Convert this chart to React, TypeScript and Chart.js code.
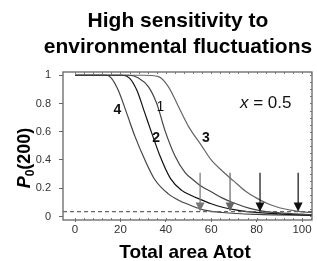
import { useEffect, useRef } from "react";
import { Chart, registerables } from "chart.js";

Chart.register(...registerables);

// ---- data ----
const curve1X = [0, 24, 28, 32.3, 36, 39.6, 44, 48.5, 52, 56, 60, 65, 70, 77, 82, 90, 100, 104.4];
const curve1Y = [1, 1, 0.98, 0.92, 0.8, 0.61, 0.43, 0.31, 0.26, 0.21, 0.175, 0.13, 0.095, 0.057, 0.04, 0.026, 0.016, 0.013];
const curve2X = [0, 21, 24, 27.2, 30.8, 33.8, 37.4, 42, 47, 51, 55, 60, 65, 70, 77, 90, 104.4];
const curve2Y = [1, 1, 0.98, 0.895, 0.73, 0.59, 0.43, 0.27, 0.185, 0.15, 0.122, 0.09, 0.065, 0.048, 0.033, 0.018, 0.01];
const curve3X = [0, 30, 36.7, 41.1, 45.5, 49.9, 55.8, 60, 65, 70, 75, 80, 85, 90, 95, 100, 104.4];
const curve3Y = [1, 1, 0.99, 0.92, 0.78, 0.64, 0.5, 0.4, 0.32, 0.25, 0.18, 0.13, 0.09, 0.062, 0.045, 0.033, 0.028];
const curve4X = [0, 14, 16, 19, 22.8, 26.4, 30.8, 35.2, 41.1, 46.3, 50, 53.6, 57, 65, 80, 104.4];
const curve4Y = [1, 1, 0.98, 0.895, 0.73, 0.567, 0.4, 0.26, 0.16, 0.11, 0.085, 0.062, 0.045, 0.028, 0.015, 0.008];
const curveNames = ["1", "2", "3", "4"];
const curveColors = ["#444444", "#111111", "#666666", "#444444"];
const labelX = [37.6, 35.7, 57.7, 18.7];
const labelY = [0.774, 0.555, 0.555, 0.753];
const labelBold = [false, true, true, true];

const thresholdY = 0.035;
const arrowX = [55.1, 68.3, 81.5, 98.3];
const arrowTop = [0.31, 0.31, 0.31, 0.31];
const arrowTip = [0.035, 0.035, 0.035, 0.035];
const arrowColors = ["#777777", "#666666", "#111111", "#111111"];

const xTicks = [0, 20, 40, 60, 80, 100];
const yTicks = [0, 0.2, 0.4, 0.6, 0.8, 1];
const xMin = -5.3;
const xMax = 104.4;
const yMin = -0.025;
const yMax = 1.023;

const titleLines = ["High sensitivity to", "environmental fluctuations"];
const xTitle = "Total area Atot";
const paramText = ["x", " = 0.5"];

const FONT = "'Liberation Sans', Arial, Helvetica, sans-serif";

const toPts = (xs: number[], ys: number[]) => xs.map((x, i) => ({ x, y: ys[i] }));

export default function App() {
  const ref = useRef<HTMLCanvasElement | null>(null);

  useEffect(() => {
    const canvas = ref.current;
    if (!canvas) return;

    const overlay = {
      id: "overlay",
      afterDraw(chart: any) {
        const ctx = chart.ctx as CanvasRenderingContext2D;
        const xs = chart.scales.x;
        const ys = chart.scales.y;
        const a = chart.chartArea;
        ctx.save();

        // frame
        ctx.strokeStyle = "#666";
        ctx.lineWidth = 1.3;
        ctx.strokeRect(a.left, a.top, a.right - a.left, a.bottom - a.top);

        // inward minor ticks
        ctx.lineWidth = 1;
        ctx.strokeStyle = "#777";
        ctx.beginPath();
        for (let v = 0; v <= 104; v += 4) {
          const px = Math.round(xs.getPixelForValue(v)) + 0.5;
          ctx.moveTo(px, a.top);
          ctx.lineTo(px, a.top + 2);
          ctx.moveTo(px, a.bottom);
          ctx.lineTo(px, a.bottom - 2);
        }
        for (let v = 0; v <= 1.0001; v += 0.05) {
          const py = Math.round(ys.getPixelForValue(v)) + 0.5;
          ctx.moveTo(a.right, py);
          ctx.lineTo(a.right - 2, py);
        }
        ctx.stroke();

        // arrows
        for (let i = 0; i < arrowX.length; i++) {
          const px = xs.getPixelForValue(arrowX[i]);
          const pTop = ys.getPixelForValue(arrowTop[i]);
          const pTip = ys.getPixelForValue(arrowTip[i]);
          ctx.strokeStyle = arrowColors[i];
          ctx.fillStyle = arrowColors[i];
          ctx.lineWidth = 1.2;
          ctx.beginPath();
          ctx.moveTo(px, pTop);
          ctx.lineTo(px, pTip - 6);
          ctx.stroke();
          ctx.beginPath();
          ctx.moveTo(px - 4.5, pTip - 9);
          ctx.lineTo(px + 4.5, pTip - 9);
          ctx.lineTo(px, pTip);
          ctx.closePath();
          ctx.fill();
        }

        // curve labels
        ctx.fillStyle = "#111";
        ctx.textAlign = "center";
        ctx.textBaseline = "middle";
        for (let i = 0; i < curveNames.length; i++) {
          ctx.font = `${labelBold[i] ? "bold " : ""}14px ${FONT}`;
          ctx.fillText(curveNames[i], xs.getPixelForValue(labelX[i]), ys.getPixelForValue(labelY[i]));
        }

        // parameter text
        ctx.textAlign = "left";
        ctx.textBaseline = "alphabetic";
        ctx.font = `italic 17px ${FONT}`;
        ctx.fillText(paramText[0], 240, 107.5);
        const w0 = ctx.measureText(paramText[0]).width;
        ctx.font = `17px ${FONT}`;
        ctx.fillText(paramText[1], 240 + w0, 107.5);

        // title
        ctx.fillStyle = "#000";
        ctx.textAlign = "center";
        ctx.font = `bold 21px ${FONT}`;
        ctx.fillText(titleLines[0], 178, 27);
        ctx.fillText(titleLines[1], 178, 53);

        // x title
        ctx.font = `bold 19px ${FONT}`;
        ctx.fillText(xTitle, 185, 258);

        // y title: P0(200)
        ctx.translate(30, 158);
        ctx.rotate(-Math.PI / 2);
        ctx.textAlign = "left";
        ctx.font = `italic bold 18px ${FONT}`;
        const wP = ctx.measureText("P").width;
        ctx.font = `bold 12px ${FONT}`;
        const wS = ctx.measureText("0").width;
        ctx.font = `bold 18px ${FONT}`;
        const wR = ctx.measureText("(200)").width;
        const start = -(wP + wS + wR) / 2;
        ctx.font = `italic bold 18px ${FONT}`;
        ctx.fillText("P", start, 0);
        ctx.font = `bold 12px ${FONT}`;
        ctx.fillText("0", start + wP, 4);
        ctx.font = `bold 18px ${FONT}`;
        ctx.fillText("(200)", start + wP + wS, 0);

        ctx.restore();
      },
    };

    const curveSets = [
      toPts(curve1X, curve1Y),
      toPts(curve2X, curve2Y),
      toPts(curve3X, curve3Y),
      toPts(curve4X, curve4Y),
    ];

    const chart = new Chart(canvas, {
      type: "line",
      data: {
        datasets: [
          {
            label: "threshold",
            data: [
              { x: xMin, y: thresholdY },
              { x: xMax, y: thresholdY },
            ],
            borderColor: "#666",
            borderWidth: 1.2,
            borderDash: [4, 3],
            pointRadius: 0,
          },
          ...curveSets.map((pts, i) => ({
            label: curveNames[i],
            data: pts,
            borderColor: curveColors[i],
            borderWidth: 1.2,
            pointRadius: 0,
            cubicInterpolationMode: "monotone" as const,
          })),
        ],
      },
      options: {
        animation: false,
        responsive: false,
        devicePixelRatio: 1,
        layout: { padding: { top: 72, right: 5, left: 0, bottom: 0 } },
        plugins: { legend: { display: false }, tooltip: { enabled: false }, title: { display: false } },
        scales: {
          x: {
            type: "linear",
            min: xMin,
            max: xMax,
            afterBuildTicks: (s: any) => {
              s.ticks = xTicks.map((v) => ({ value: v }));
            },
            afterFit: (s: any) => {
              s.height = 41;
            },
            ticks: {
              font: { family: FONT, size: 11.5 },
              color: "#333",
              padding: 1,
              maxRotation: 0,
              callback: (v: any) => String(v),
            },
            grid: { drawOnChartArea: false, drawTicks: true, tickLength: 2, color: "#666" },
            border: { display: false },
          },
          y: {
            type: "linear",
            min: yMin,
            max: yMax,
            afterBuildTicks: (s: any) => {
              s.ticks = yTicks.map((v) => ({ value: v }));
            },
            afterFit: (s: any) => {
              s.width = 63;
            },
            ticks: {
              font: { family: FONT, size: 11 },
              color: "#333",
              padding: 8,
              callback: (v: any) => String(Math.round(v * 10) / 10),
            },
            grid: { drawOnChartArea: false, drawTicks: true, tickLength: 4, color: "#666" },
            border: { display: false },
          },
        },
      },
      plugins: [overlay],
    });

    return () => chart.destroy();
  }, []);

  return (
    <div style={{ position: "fixed", left: 0, top: 0, width: 317, height: 261, background: "#fff" }}>
      <canvas ref={ref} width={317} height={261} style={{ display: "block" }} />
    </div>
  );
}
